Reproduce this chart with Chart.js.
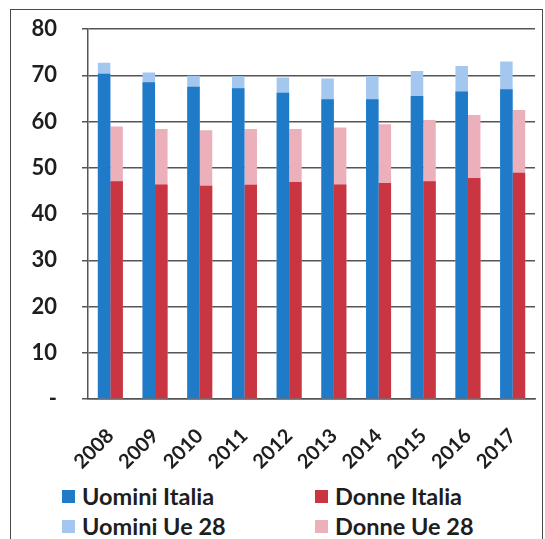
<!DOCTYPE html>
<html>
<head>
<meta charset="utf-8">
<script src="https://cdn.jsdelivr.net/npm/chart.js@4/dist/chart.umd.min.js"></script>
<style>
  body { margin: 0; background: #fff; }
  #frame {
    position: absolute; left: 10px; top: 9px; width: 531px; height: 540px;
    border: 1.5px solid #4a4a4a; border-bottom: none;
  }
  #wrap { position: absolute; left: 0; top: 0; width: 545px; height: 480px; }
  #legend {
    position: absolute; left: 0; top: 482px; width: 545px;
    font-family: Lato, sans-serif; font-weight: bold; font-size: 23.5px; color: #1e1e1e;
  }
  .item { position: absolute; display: flex; align-items: center; white-space: nowrap; }
  .box { width: 13px; height: 13px; margin-right: 7px; }
</style>
</head>
<body>
<div id="frame"></div>
<div id="wrap"><canvas id="chart" width="545" height="480"></canvas></div>
<div id="legend"></div>
<script>
var years = ["2008", "2009", "2010", "2011", "2012", "2013", "2014", "2015", "2016", "2017"];
var uomini_italia = [70.3, 68.5, 67.5, 67.2, 66.2, 64.8, 64.8, 65.5, 66.5, 67.0];
var donne_italia = [47.1, 46.4, 46.1, 46.3, 46.9, 46.4, 46.7, 47.1, 47.8, 48.9];
var uomini_ue = [72.7, 70.6, 69.9, 69.8, 69.5, 69.3, 69.8, 70.9, 72.0, 73.0];
var donne_ue = [58.9, 58.4, 58.1, 58.4, 58.4, 58.7, 59.4, 60.3, 61.4, 62.5];
var y_ticks = [0, 10, 20, 30, 40, 50, 60, 70, 80];

// legend in two columns, built from the chart datasets
var legendPos = [[62, 0], [315, 0], [62, 30], [315, 30]];
var htmlLegend = {
    id: "htmlLegend",
    afterUpdate: function (chart) {
        var el = document.getElementById("legend");
        el.innerHTML = "";
        chart.data.datasets.forEach(function (ds, i) {
            var item = document.createElement("div");
            item.className = "item";
            item.style.left = legendPos[i][0] + "px";
            item.style.top = legendPos[i][1] + "px";
            var box = document.createElement("span");
            box.className = "box";
            box.style.background = ds.backgroundColor;
            var txt = document.createElement("span");
            txt.textContent = ds.label;
            item.appendChild(box);
            item.appendChild(txt);
            el.appendChild(item);
        });
    },
};

var ctx = document.getElementById("chart").getContext("2d");
new Chart(ctx, {
    type: "bar",
    data: {
        labels: years,
        datasets: [
            { label: "Uomini Italia", data: uomini_italia, backgroundColor: "#1f7ac8", stack: "m", order: 0 },
            { label: "Donne Italia", data: donne_italia, backgroundColor: "#c93540", stack: "d", order: 0 },
            { label: "Uomini Ue 28", data: uomini_ue, backgroundColor: "#a3c7ee", stack: "m", order: 1 },
            { label: "Donne Ue 28", data: donne_ue, backgroundColor: "#ecb0ba", stack: "d", order: 1 },
        ],
    },
    options: {
        responsive: false,
        animation: false,
        categoryPercentage: 0.56,
        barPercentage: 1,
        layout: { padding: { top: 29, left: 10, right: 10, bottom: 9 } },
        plugins: {
            legend: { display: false },
            tooltip: { enabled: false },
        },
        scales: {
            x: {
                stacked: true,
                grid: { display: false },
                border: { display: true, color: "#555", width: 1.5 },
                ticks: {
                    minRotation: 45,
                    maxRotation: 45,
                    padding: 17,
                    color: "#1e1e1e",
                    font: { family: "Lato", weight: "bold", size: 20 },
                },
                afterFit: function (scale) {
                    scale.height = 72;
                    scale.paddingLeft = 0;
                    scale.paddingRight = 0;
                },
            },
            y: {
                stacked: false,
                min: 0,
                max: 80,
                afterBuildTicks: function (scale) {
                    scale.ticks = y_ticks.map((v) => ({ value: v }));
                },
                grid: { color: "#555", lineWidth: 1.5, tickLength: 6 },
                border: { display: true, color: "#555", width: 1.5 },
                ticks: {
                    padding: 25,
                    color: "#1e1e1e",
                    font: { family: "Lato", weight: "bold", size: 22 },
                    callback: (v) => (v === 0 ? "-" : v),
                },
                afterFit: function (scale) {
                    scale.width = 78;
                    scale.paddingTop = 8;
                    scale.paddingBottom = 0;
                },
            },
        },
    },
    plugins: [htmlLegend],
});
</script>
</body>
</html>
